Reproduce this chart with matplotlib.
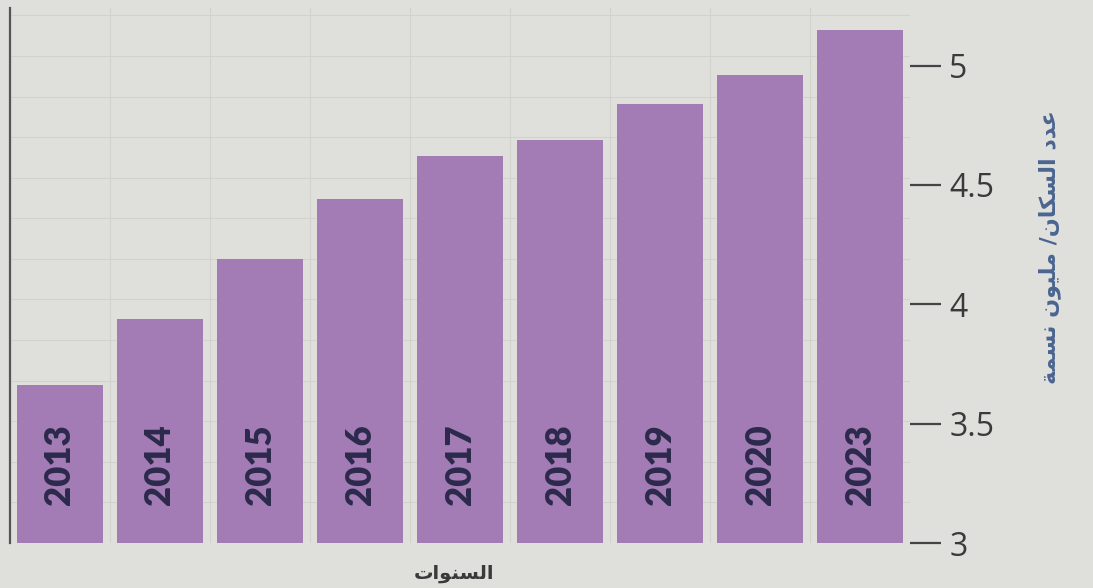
import matplotlib
matplotlib.use("Agg")
import matplotlib.pyplot as plt

# data (population, millions)
years = ["2013", "2014", "2015", "2016", "2017", "2018", "2019", "2020", "2023"]
population = [3.66, 3.94, 4.19, 4.44, 4.62, 4.69, 4.84, 4.96, 5.15]
y_ticks = [3, 3.5, 4, 4.5, 5]
y_tick_labels = ["3", "3.5", "4", "4.5", "5"]

# Arabic labels, pre-shaped (presentation forms) and in visual order,
# because matplotlib does no right-to-left shaping
x_label = "\uFE95\uFE8D\uFEEE\uFEE8\uFEB4\uFEDF\uFE8D"  # السنوات
y_label = ("\uFE94\uFEE4\uFEB4\uFEE7 \uFEE5\uFEEE\uFEF4\uFEE0\uFEE3 /"
           "\uFEE5\uFE8E\uFEDC\uFEB4\uFEDF\uFE8D \uFEA9\uFEAA\uFECB")  # عدد السكان/ مليون نسمة

bg = "#dfe0dc"
bar_color = "#a37bb5"

fig = plt.figure(figsize=(10.93, 5.88), dpi=100, facecolor=bg)
ax = fig.add_axes([0.009, 0.0765, 0.824, 0.9095])
ax.set_facecolor(bg)

x = list(range(len(years)))
ax.bar(x, population, width=0.86, bottom=0, color=bar_color, zorder=2)

# year labels inside the bars
for i, yr in enumerate(years):
    ax.text(i, 3.33, yr, rotation=90, ha="center", va="center",
            fontsize=25, fontweight="heavy", color="#2c2a4c",
            family="Lato", zorder=3)

ax.set_xlim(-0.45, 8.40)
ax.set_ylim(3, 5.24)

# faint paper grid
ax.set_xticks([i + 0.5 for i in range(-1, 9)], minor=True)
ax.set_yticks([3 + k * 0.17 for k in range(14)], minor=True)
ax.grid(True, which="minor", color="#d2d3cf", linewidth=0.8, zorder=0)
ax.set_axisbelow(True)

ax.set_xticks([])
ax.yaxis.tick_right()
ax.set_yticks(y_ticks)
ax.set_yticklabels(y_tick_labels, family="Open Sans", fontsize=23, color="#3a3a3a")
ax.tick_params(axis="y", which="major", length=22, width=1.6, color="#444444", pad=6)
ax.tick_params(axis="both", which="minor", length=0)

for side in ["top", "bottom", "right"]:
    ax.spines[side].set_visible(False)
ax.spines["left"].set_color("#555555")
ax.spines["left"].set_linewidth(1.6)

fig.text(0.415, 0.025, x_label, ha="center", va="center", fontsize=14,
         fontweight="bold", color="#3a3a3a", family="DejaVu Sans")
fig.text(0.96, 0.58, y_label, rotation=90, ha="center", va="center", fontsize=16,
         fontweight="bold", color="#4a6590", family="DejaVu Sans")

fig.savefig("out.png", dpi=100, facecolor=bg)
